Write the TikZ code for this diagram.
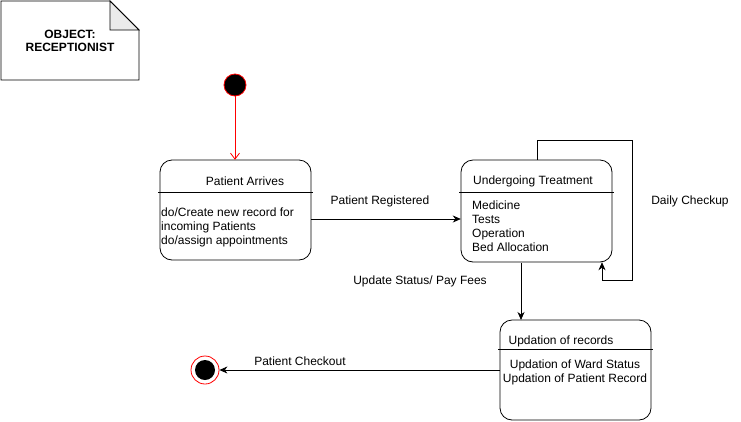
\documentclass[tikz,border=0pt]{standalone}
\usepackage{fontspec}
\setmainfont{Liberation Sans}
\usetikzlibrary{arrows.meta,calc}
\begin{document}
\begin{tikzpicture}[x=1pt,y=-1pt,
  every node/.style={font=\fontsize{12}{14}\selectfont, inner sep=0pt},
  statebox/.style={draw, line width=0.8pt, rounded corners=12pt},
  sep/.style={line width=0.8pt},
  conn/.style={line width=0.8pt, -{Stealth[length=8pt,width=7pt,inset=2.5pt]}},
  body/.style={align=left, anchor=north west},
]
\useasboundingbox (0,0) rectangle (741,421);
% note
\draw[line width=0.8pt] (1,1) -- (110,1) -- (139,30) -- (139,80) -- (1,80) -- cycle;
\filldraw[fill=black!8, line width=0.8pt] (110,1) -- (110,30) -- (139,30) -- cycle;
\node[font=\fontsize{12}{13}\selectfont\bfseries, align=center] (obj) at (70,41) {OBJECT:\\RECEPTIONIST};
% initial
\node[circle, fill=black, draw=red, line width=0.8pt, minimum size=22pt] (init) at (235,85) {};
% Patient Arrives
\draw[statebox] (160,160) rectangle (311,260);
\node[minimum width=151pt, minimum height=100pt] (paN) at (235.5,210) {};
\draw[sep] (158,192) -- (313,192);
\node (paT) at (245,181) {Patient Arrives};
\node[body] (paB) at (161,208) {do/Create new record for\\incoming Patients\\do/assign appointments};
% Undergoing Treatment
\draw[statebox] (461,160) rectangle (612,262);
\node[minimum width=151pt, minimum height=102pt] (utN) at (536.5,211) {};
\draw[sep] (459,192) -- (614,192);
\node (utT) at (533,181) {Undergoing Treatment};
\node[body] (utB) at (472,201) {Medicine\\Tests\\Operation\\Bed Allocation};
% Updation of records
\draw[statebox] (500,320) rectangle (651,420);
\node[minimum width=151pt, minimum height=100pt] (urN) at (575.5,370) {};
\draw[sep] (498,349) -- (653,349);
\node (urT) at (561,341) {Updation of records};
\node[align=center, anchor=north] (urB) at (575,360) {Updation of Ward Status\\Updation of Patient Record};
% final
\node[circle, draw=red, line width=0.8pt, minimum size=28pt] (fin) at (205,370) {};
\node[circle, fill=black, minimum size=20pt] (finIn) at (205,370) {};
% connectors
\draw[red, line width=0.8pt, -{Straight Barb[length=6pt,width=9pt]}] (init.south) -- (init.south |- paN.north);
\draw[conn] (paN.east |- 0,219) -- (utN.west |- 0,219);
\node (l1) at (380,201) {Patient Registered};
\coordinate (lp1) at (537,140);
\coordinate (lp2) at (632,140);
\coordinate (lp3) at (632,280);
\coordinate (lp4) at (602,280);
\draw[conn] (utN.north -| lp1) -- (lp1) -- (lp2) -- (lp3) -- (lp4) -- (lp4 |- utN.south);
\node (l2) at (690,201) {Daily Checkup};
\draw[conn] (521,263) -- (521,320);
\node (l3) at (420,281) {Update Status/ Pay Fees};
\draw[conn] (urN.west |- 0,370) -- (fin.east);
\node (l4) at (300,361) {Patient Checkout};
\end{tikzpicture}
\end{document}
